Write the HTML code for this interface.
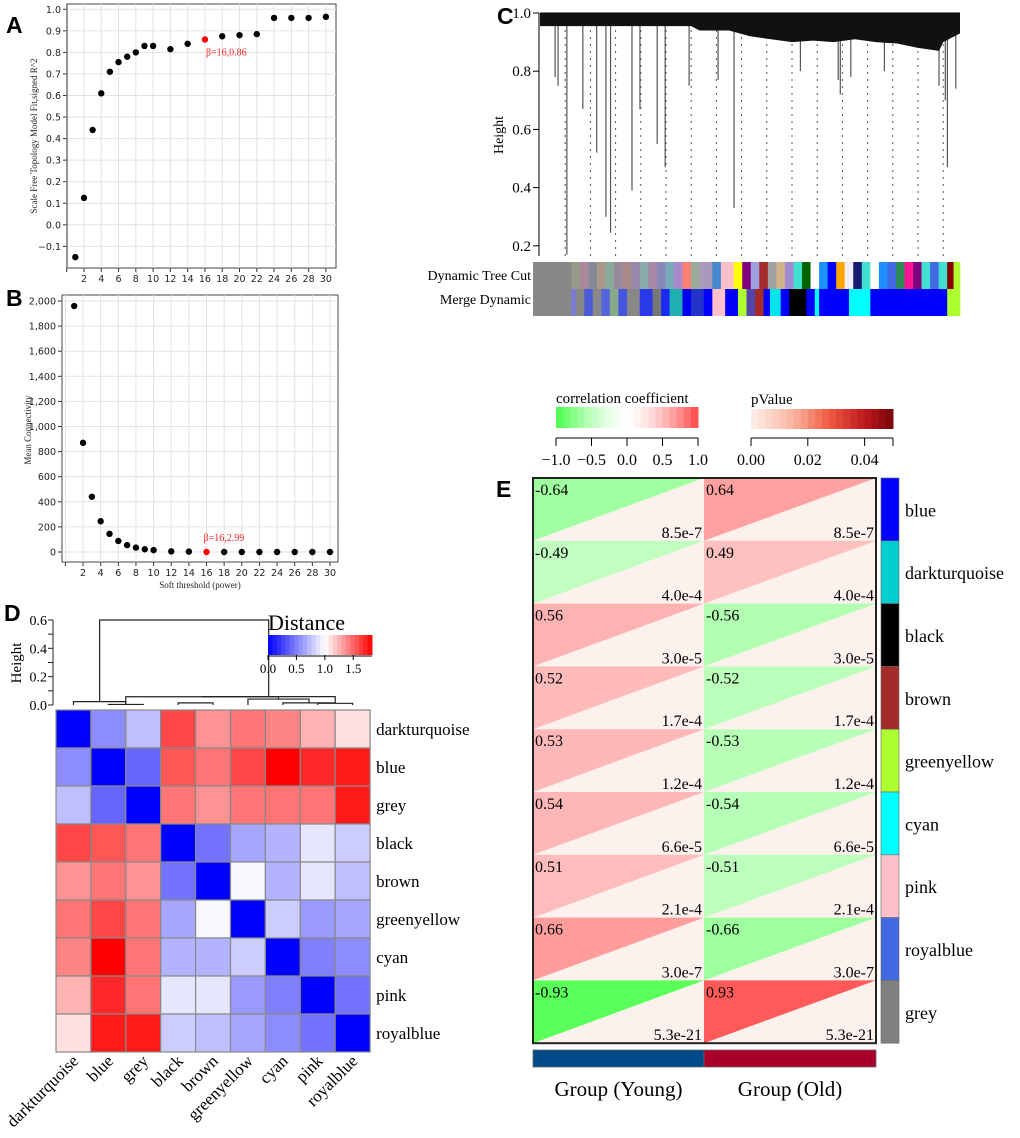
<!DOCTYPE html>
<html><head><meta charset="utf-8">
<style>
html,body{margin:0;padding:0;background:#fff;}
svg{display:block;}
.serif{font-family:"Liberation Serif",serif;}
.sans{font-family:"DejaVu Sans","Liberation Sans",sans-serif;}
</style></head>
<body>
<svg id="fig" width="1020" height="1138" viewBox="0 0 1020 1138" xmlns="http://www.w3.org/2000/svg">
<g id="pa"></g>
<g id="pb"></g>
<g id="pc"></g>
<g id="pd"></g>
<g id="pe"></g>
<text x="6" y="33" font-family="Liberation Sans" font-weight="bold" font-size="23">A</text>
<text x="6" y="306" font-family="Liberation Sans" font-weight="bold" font-size="23">B</text>
<text x="497" y="24" font-family="Liberation Sans" font-weight="bold" font-size="23">C</text>
<text x="4" y="621" font-family="Liberation Sans" font-weight="bold" font-size="23">D</text>
<text x="496" y="497" font-family="Liberation Sans" font-weight="bold" font-size="23">E</text>
</svg>
<script>
// ---------- data ----------
const powers = [1,2,3,4,5,6,7,8,9,10,12,14,16,18,20,22,24,26,28,30];
const fitR2 = [-0.15,0.125,0.44,0.61,0.71,0.755,0.78,0.80,0.83,0.83,0.815,0.84,0.86,0.875,0.88,0.885,0.96,0.96,0.96,0.965];
const meanK = [1960,870,440,245,145,88,55,35,22,15,5,3,0,0,0,0,0,0,0,0];
const selectedPower = 16;
const fitYTicks = [-0.1,0,0.1,0.2,0.3,0.4,0.5,0.6,0.7,0.8,0.9,1.0];
const kYTicks = [0,200,400,600,800,1000,1200,1400,1600,1800,2000];
const powerTicks = [2,4,6,8,10,12,14,16,18,20,22,24,26,28,30];

const dendroHeightTicks = [0.2,0.4,0.6,0.8,1.0];
const dendroBandFrac = [0,0.1,0.2,0.3,0.36,0.38,0.45,0.5,0.55,0.6,0.65,0.7,0.75,0.8,0.85,0.9,0.95,0.96,1];
const dendroBandHeight = [0.955,0.955,0.955,0.955,0.955,0.94,0.94,0.92,0.91,0.9,0.905,0.9,0.91,0.9,0.895,0.88,0.87,0.9,0.93];
const dropFrac = [0.036,0.043,0.064,0.102,0.135,0.157,0.168,0.219,0.238,0.279,0.298,0.355,0.424,0.462,0.62,0.71,0.715,0.74,0.82,0.95,0.965,0.97,0.99];
const dropHeight = [0.78,0.75,0.17,0.67,0.52,0.30,0.245,0.39,0.67,0.55,0.47,0.75,0.77,0.33,0.8,0.77,0.72,0.78,0.8,0.75,0.7,0.47,0.74];
const cutFrac = [0.06,0.12,0.18,0.24,0.30,0.36,0.42,0.48,0.54,0.60,0.66,0.72,0.78,0.84,0.90,0.96];
const mergeStart = [0,0.09,0.1,0.12,0.14,0.16,0.18,0.2,0.22,0.25,0.28,0.3,0.32,0.35,0.37,0.4,0.42,0.45,0.48,0.5,0.52,0.54,0.555,0.58,0.6,0.605,0.64,0.66,0.67,0.71,0.74,0.79,0.8,0.97];
const mergeColor = ["#888","#7a7ad8","#888","#4b5bd8","#888","#5566dd","#8a8","#4455e0","#888","#2a3ae8","#777","#1a2af0","#20b0b0","#0000f0","#2233cc","#0000ff","#ffc0cb","#0000ff","#adff2f","#5544aa","#a52a2a","#0000ff","#00e5ee","#0000ff","#000","#000","#0000ff","#00ffff","#0000ff","#0000ff","#00ffff","#0000ff","#0000ff","#adff2f"];
const cutStart = [0,0.09,0.11,0.13,0.15,0.17,0.19,0.21,0.23,0.25,0.27,0.29,0.31,0.33,0.35,0.37,0.39,0.42,0.44,0.47,0.49,0.51,0.53,0.55,0.57,0.59,0.61,0.63,0.65,0.67,0.69,0.71,0.73,0.75,0.77,0.79,0.81,0.83,0.85,0.87,0.89,0.91,0.93,0.95,0.97,0.985];
const cutColor = ["#888","#998","#a89","#889","#a98","#8a9","#989","#a88","#98a","#8aa","#a8a","#88b","#7ab","#a8c","#fa8072","#9a9","#a9b","#48c","#ffc0cb","#ffff00","#800080","#a0a0e0","#a52a2a","#a0a0a0","#d2b48c","#a08ad0","#40e0d0","#006400","#fff","#1e90ff","#0000ff","#ffa500","#eef","#191970","#40e0d0","#fff","#1e90ff","#4169e1","#2e8b57","#ff1493","#800080","#40e0d0","#4169e1","#40e0d0","#8b0000","#adff2f"];

const modules = ["darkturquoise","blue","grey","black","brown","greenyellow","cyan","pink","royalblue"];
const distRow0 = [0,0.55,0.75,1.6,1.35,1.45,1.4,1.25,1.1];
const distRow1 = [0.55,0,0.4,1.55,1.45,1.6,1.83,1.7,1.75];
const distRow2 = [0.75,0.4,0,1.45,1.35,1.45,1.45,1.45,1.75];
const distRow3 = [1.6,1.55,1.45,0,0.45,0.65,0.7,0.9,0.8];
const distRow4 = [1.35,1.45,1.35,0.45,0,0.97,0.7,0.9,0.75];
const distRow5 = [1.45,1.6,1.45,0.65,0.97,0,0.8,0.6,0.65];
const distRow6 = [1.4,1.83,1.45,0.7,0.7,0.8,0,0.5,0.55];
const distRow7 = [1.25,1.7,1.45,0.9,0.9,0.6,0.5,0,0.45];
const distRow8 = [1.1,1.75,1.75,0.8,0.75,0.65,0.55,0.45,0];
const distTicks = [0.0,0.5,1.0,1.5];
const mergeLeft = [1,7,3,6,5,9,10,0,15];
const mergeRight= [2,8,4,10,12,13,14,9,16];
const mergeHeight=[0.004,0.012,0.015,0.015,0.042,0.058,0.059,0.024,0.6];

const traitModules = ["blue","darkturquoise","black","brown","greenyellow","cyan","pink","royalblue","grey"];
const traitModuleColor = ["#0000ff","#00ced1","#000000","#a52a2a","#adff2f","#00ffff","#ffc0cb","#4169e1","#808080"];
const corYoung = [-0.64,-0.49,0.56,0.52,0.53,0.54,0.51,0.66,-0.93];
const corOld = [0.64,0.49,-0.56,-0.52,-0.53,-0.54,-0.51,-0.66,0.93];
const pvals = ["8.5e-7","4.0e-4","3.0e-5","1.7e-4","1.2e-4","6.6e-5","2.1e-4","3.0e-7","5.3e-21"];
const groups = ["Group (Young)","Group (Old)"];
const corTicks = [-1.0,-0.5,0.0,0.5,1.0];
const pTicks = [0.00,0.02,0.04];

// ---------- helpers ----------
const NS="http://www.w3.org/2000/svg";
function mk(parent,tag,attrs,text){const e=document.createElementNS(NS,tag);for(const k in attrs)e.setAttribute(k,attrs[k]);if(text!==undefined)e.textContent=text;parent.appendChild(e);return e;}
const fmt = v=>v.toLocaleString('en-US');
const mnus = s=>String(s).replace('-','\u2212');

// ---------- panel A ----------
(function(){
 const g=document.getElementById('pa');
 const L=67,R=336,T=4,B=268;
 const xs=v=>66.7+v*8.64, ys=v=>9.3+(1.0-v)*215.5;
 const box=mk(g,'rect',{x:L,y:T,width:R-L,height:B-T,fill:'none',stroke:'#444','stroke-width':1});
 
 
 fitYTicks.forEach(t=>{const y=ys(t);
  const gl=mk(g,'line',{x1:L,x2:R,y1:y,y2:y,stroke:'#e2e2e2'});
  mk(g,'line',{x1:L-4,x2:L,y1:y,y2:y,stroke:'#333'});
  const tl=mk(g,'text',{x:L-6,y:y+3.5,'text-anchor':'end','font-size':9.5,class:'sans',fill:'#222'},mnus(t.toFixed(1)));
  });
 [0].concat(powerTicks).forEach(t=>{const x=xs(t);
  const gl=mk(g,'line',{x1:x,x2:x,y1:T,y2:B,stroke:'#e2e2e2'});
  mk(g,'line',{x1:x,x2:x,y1:B,y2:B+4,stroke:'#333'});
  if(t>0){const tl=mk(g,'text',{x:x,y:B+14,'text-anchor':'middle','font-size':9.5,class:'sans',fill:'#222'},t);
  }});
 powers.forEach((p,i)=>{const c=mk(g,'circle',{cx:xs(p),cy:ys(fitR2[i]),r:3.2,fill:p===selectedPower?'#f00':'#000'});
  });
 const si=powers.indexOf(selectedPower);
 const an=mk(g,'text',{x:xs(selectedPower)+1,y:ys(fitR2[si])+16,'font-size':10,class:'serif',fill:'#f22'},'\u03B2='+selectedPower+','+fitR2[si].toFixed(2));
 
 const yt=mk(g,'text',{transform:'translate(37,136) rotate(-90)','text-anchor':'middle','font-size':9,class:'serif',fill:'#222'},'Scale Free Topology Model Fit,signed R^2');
 
 mk(g,'line',{x1:L,x2:L,y1:T,y2:B,stroke:'#333'});
})();

// ---------- panel B ----------
(function(){
 const g=document.getElementById('pb');
 const L=62,R=338,T=295,B=562;
 const xs=v=>65.4+v*8.82, ys=v=>552-v*0.1255;
 const box=mk(g,'rect',{x:L,y:T,width:R-L,height:B-T,fill:'none',stroke:'#444','stroke-width':1});
 
 kYTicks.forEach(t=>{const y=ys(t);
  const gl=mk(g,'line',{x1:L,x2:R,y1:y,y2:y,stroke:'#e2e2e2'});
  mk(g,'line',{x1:L-4,x2:L,y1:y,y2:y,stroke:'#333'});
  const tl=mk(g,'text',{x:L-6,y:y+3.5,'text-anchor':'end','font-size':9.5,class:'sans',fill:'#222'},fmt(t));
  });
 [0].concat(powerTicks).forEach(t=>{const x=xs(t);
  const gl=mk(g,'line',{x1:x,x2:x,y1:T,y2:B,stroke:'#e2e2e2'});
  mk(g,'line',{x1:x,x2:x,y1:B,y2:B+4,stroke:'#333'});
  if(t>0){const tl=mk(g,'text',{x:x,y:B+14,'text-anchor':'middle','font-size':9.5,class:'sans',fill:'#222'},t);
  }});
 powers.forEach((p,i)=>{const c=mk(g,'circle',{cx:xs(p),cy:ys(meanK[i]),r:3.2,fill:p===selectedPower?'#f00':'#000'});
  });
 const si=powers.indexOf(selectedPower);
 const an=mk(g,'text',{x:xs(selectedPower)-3,y:ys(meanK[si])-11,'font-size':10,class:'serif',fill:'#f22'},'\u03B2='+selectedPower+',2.99');
 
 const yt=mk(g,'text',{transform:'translate(31,430) rotate(-90)','text-anchor':'middle','font-size':9,class:'serif',fill:'#222'},'Mean Connectivity');
 
 const xt=mk(g,'text',{x:200,y:588,'text-anchor':'middle','font-size':9,class:'serif',fill:'#222'},'Soft threshold (power)');
 
})();

// ---------- panel C ----------
(function(){
 const g=document.getElementById('pc');
 const X0=540,X1=960;
 const xs=f=>X0+f*(X1-X0), ys=h=>13+(1.0-h)*291;
 const ax=mk(g,'line',{x1:539,x2:539,y1:13,y2:256,stroke:'#000'});
 dendroHeightTicks.forEach(t=>{const y=ys(t);mk(g,'line',{x1:533,x2:539,y1:y,y2:y,stroke:'#000'});
  const tl=mk(g,'text',{x:531,y:y+5,'text-anchor':'end','font-size':15,class:'serif'},t.toFixed(1));
  });
 const yt=mk(g,'text',{transform:'translate(503,135) rotate(-90)','text-anchor':'middle','font-size':14,class:'serif'},'Height');
 
 cutFrac.forEach(f=>{const l=mk(g,'line',{x1:xs(f),x2:xs(f),y1:30,y2:256,stroke:'#555','stroke-dasharray':'2,5'});
  });
 dropFrac.forEach((f,i)=>{const l=mk(g,'line',{x1:xs(f),x2:xs(f),y1:20,y2:ys(dropHeight[i]),stroke:'#555','stroke-width':1.2});
  });
 let pts=dendroBandFrac.map((f,i)=>xs(f)+','+ys(dendroBandHeight[i])).join(' ');
 const band=mk(g,'polygon',{points:xs(0)+','+ys(1.0)+' '+xs(1)+','+ys(1.0)+' '+pts.split(' ').reverse().join(' '),fill:'#111'});
 
 mk(g,'line',{x1:X0,x2:X1,y1:ys(1.0),y2:ys(1.0),stroke:'#000'});
 const bars=[[cutStart,cutColor,262,'dynamic-tree-cut-bar'],[mergeStart,mergeColor,289,'merge-dynamic-bar']];
 bars.forEach(([st,co,y,nm])=>{const bg=mk(g,'g',{});
  st.forEach((s,i)=>{const e=i<st.length-1?st[i+1]:1;mk(bg,'rect',{x:533+s*427,y:y,width:(e-s)*427+0.3,height:27,fill:co[i]});});});
 const t1=mk(g,'text',{x:531,y:280,'text-anchor':'end','font-size':14,class:'serif'},'Dynamic Tree Cut');
 
 const t2=mk(g,'text',{x:531,y:304,'text-anchor':'end','font-size':14,class:'serif'},'Merge Dynamic');
 
})();

// ---------- panel D ----------
(function(){
 const g=document.getElementById('pd');
 const L=56,T=710,CW=34.9,CH=38;
 const rows=[distRow0,distRow1,distRow2,distRow3,distRow4,distRow5,distRow6,distRow7,distRow8];
 const dmax=1.83;
 function dcol(v){ if(v<=1){const t=v;return `rgb(${Math.round(255*t)},${Math.round(255*t)},255)`;}
  const t=Math.min(1,(v-1)/(dmax-1));return `rgb(255,${Math.round(255*(1-t))},${Math.round(255*(1-t))})`;}
 rows.forEach((r,i)=>r.forEach((v,j)=>{const c=mk(g,'rect',{x:L+j*CW,y:T+i*CH,width:CW,height:CH,fill:dcol(v),stroke:'#888','stroke-width':1.2});
  }));
 modules.forEach((m,i)=>{const t=mk(g,'text',{x:L+9*CW+6,y:T+i*CH+CH/2+6,'font-size':17,class:'serif'},m);
  
  const cx=L+i*CW+CW/2+6;
  const c=mk(g,'text',{transform:`translate(${cx},1062) rotate(-45)`,'text-anchor':'end','font-size':17,class:'serif'},m);
  });
 const hs=h=>705-h*141.7;
 const pos=[],ht=[];
 modules.forEach((m,i)=>{pos.push(L+i*CW+CW/2);ht.push(0);});
 mergeLeft.forEach((a,k)=>{const b=mergeRight[k],h=mergeHeight[k];
  const p=mk(g,'path',{d:`M${pos[a]},${hs(ht[a])}V${hs(h)}H${pos[b]}V${hs(ht[b])}`,fill:'none',stroke:'#222','stroke-width':1.2});
  
  pos.push((pos[a]+pos[b])/2);ht.push(h);});
 mk(g,'line',{x1:53,x2:53,y1:hs(0.6),y2:hs(0),stroke:'#222'});
 [0,0.1,0.2,0.3,0.4,0.5,0.6].forEach((t,i)=>{mk(g,'line',{x1:48,x2:53,y1:hs(t),y2:hs(t),stroke:'#222'});
  if(i%2===0){const tl=mk(g,'text',{x:47,y:hs(t)+5,'text-anchor':'end','font-size':14,class:'serif'},t.toFixed(1));}});
 const yt=mk(g,'text',{transform:'translate(21,663) rotate(-90)','text-anchor':'middle','font-size':15,class:'serif'},'Height');
 
 const lg=mk(g,'g',{});
 mk(lg,'text',{x:268,y:630,'font-size':22,class:'serif'},'Distance');
 const lx=v=>268+v*(104/dmax);
 for(let k=0;k<24;k++){const v=k*dmax/24;mk(lg,'rect',{x:lx(v),y:635,width:104/24+0.5,height:20,fill:dcol(v+dmax/48)});}
 distTicks.forEach(t=>{mk(lg,'line',{x1:lx(t),x2:lx(t),y1:655,y2:660,stroke:'#000'});
  mk(lg,'text',{x:lx(t),y:673,'text-anchor':'middle','font-size':13,class:'serif'},t.toFixed(1));});
 mk(lg,'line',{x1:268,x2:372,y1:656,y2:656,stroke:'#000'});
})();

// ---------- panel E ----------
(function(){
 const g=document.getElementById('pe');
 const L=533,M=704,R=876,T=478,RH=62.8;
 function ccol(r){const a=Math.abs(r);const v=Math.round(255*(1-Math.pow(a,1.5)*0.72));return r<0?`rgb(${v},255,${v})`:`rgb(255,${v},${v})`;}
 traitModules.forEach((m,i)=>{const y=T+i*RH;
  [[L,M,corYoung[i],'young'],[M,R,corOld[i],'old']].forEach(([x0,x1,r,gn])=>{
   const bg=mk(g,'rect',{x:x0,y:y,width:x1-x0,height:RH,fill:'#fdf1ed'});
   
   const tr=mk(g,'polygon',{points:`${x0},${y} ${x1},${y} ${x0},${y+RH}`,fill:ccol(r)});
   
   const t1=mk(g,'text',{x:x0+2,y:y+17,'font-size':16,class:'serif'},r.toFixed(2));
   
   const t2=mk(g,'text',{x:x1-2,y:y+RH-3,'text-anchor':'end','font-size':16,class:'serif'},pvals[i]);
   });
  const sw=mk(g,'rect',{x:881,y:y,width:18,height:RH,fill:traitModuleColor[i],stroke:'#666','stroke-width':0.6});
  
  const lb=mk(g,'text',{x:905,y:y+RH/2+7,'font-size':18,class:'serif'},m);
  });
 const fr=mk(g,'rect',{x:L,y:T,width:R-L,height:RH*9,fill:'none',stroke:'#222','stroke-width':2});
 
 const gc=['#004a8a','#a8002a'];
 groups.forEach((gr,k)=>{const x0=k?M:L,x1=k?R:M;
  const b=mk(g,'rect',{x:x0,y:1050,width:x1-x0,height:17,fill:gc[k],stroke:'#666','stroke-width':0.8});
  
  const t=mk(g,'text',{x:(x0+x1)/2,y:1096,'text-anchor':'middle','font-size':21,class:'serif'},gr);
  });
 const cl=mk(g,'g',{});
 mk(cl,'text',{x:556,y:403,'font-size':15,class:'serif'},'correlation coefficient');
 const cx=v=>556+(v+1)*71;
 for(let k=0;k<20;k++){const v=-1+k*0.1;mk(cl,'rect',{x:cx(v),y:407,width:7.6,height:21,fill:ccol(v+0.05)});}
 mk(cl,'line',{x1:556,x2:698,y1:438,y2:438,stroke:'#000'});
 corTicks.forEach(t=>{mk(cl,'line',{x1:cx(t),x2:cx(t),y1:438,y2:446,stroke:'#000'});
  mk(cl,'text',{x:cx(t),y:465,'text-anchor':'middle','font-size':16,class:'serif'},mnus(t.toFixed(1)));});
 const pl=mk(g,'g',{});
 mk(pl,'text',{x:751,y:404,'font-size':15,class:'serif'},'pValue');
 const px=v=>751+v*2840;
 const stops=[[0,[253,240,236]],[0.3,[250,180,160]],[0.55,[240,90,65]],[0.8,[190,25,30]],[1,[120,5,10]]];
 function pcol(v){const t=Math.min(1,v/0.05);for(let s=1;s<stops.length;s++){if(t<=stops[s][0]){const a=stops[s-1],b=stops[s];const u=(t-a[0])/(b[0]-a[0]);
   return `rgb(${a[1].map((c,q)=>Math.round(c+(b[1][q]-c)*u)).join(',')})`;}}return 'rgb(120,5,10)';}
 for(let k=0;k<20;k++){const v=k*0.0025;mk(pl,'rect',{x:px(v),y:409,width:7.6,height:20,fill:pcol(v+0.00125)});}
 mk(pl,'line',{x1:751,x2:893,y1:438,y2:438,stroke:'#000'});
 pTicks.concat([0.05]).forEach((t,i)=>{mk(pl,'line',{x1:px(t),x2:px(t),y1:438,y2:446,stroke:'#000'});
  if(i<3)mk(pl,'text',{x:px(t),y:465,'text-anchor':'middle','font-size':16,class:'serif'},t.toFixed(2));});
})();
</script>
</body></html>
